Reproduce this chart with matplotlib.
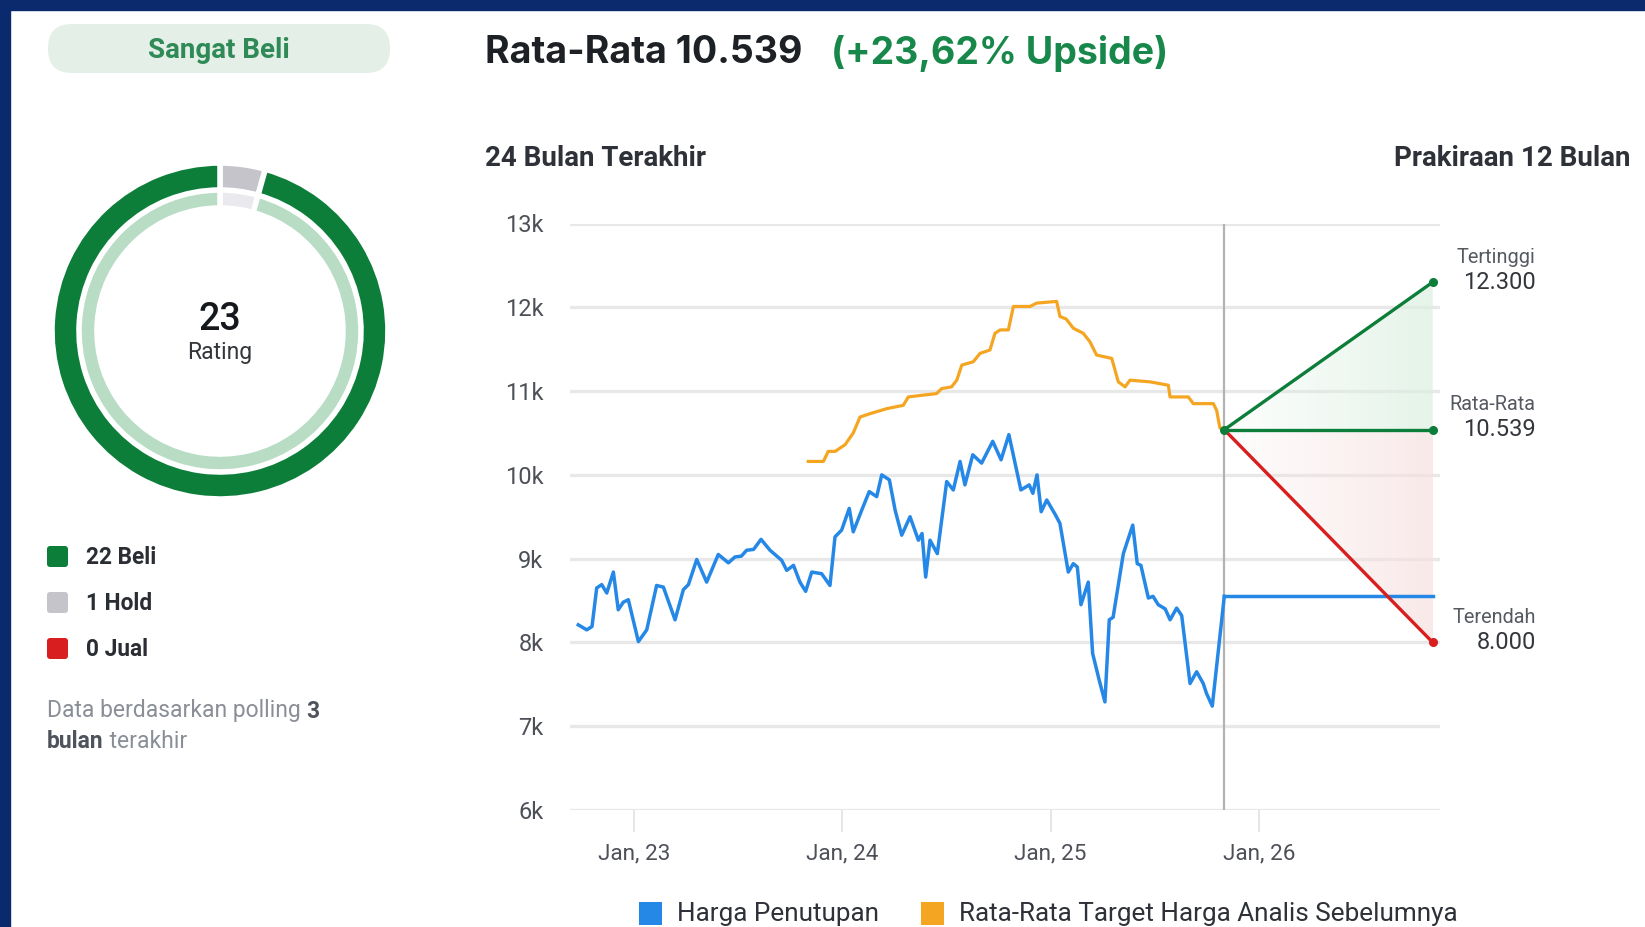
import numpy as np
import matplotlib
matplotlib.use("Agg")
import matplotlib.pyplot as plt
from matplotlib.patches import FancyBboxPatch, Polygon, Rectangle
from matplotlib.transforms import IdentityTransform

# ---- data (months counted from Jan 2023) ----
blue_m = [-3.19, -2.7, -2.4, -2.13, -1.84, -1.55, -1.17, -0.89, -0.6, -0.31, 0.27, 0.75, 1.32, 1.71,
          2.38, 2.86, 3.15, 3.63, 4.2, 4.87, 5.45, 5.83, 6.2, 6.5, 6.9, 7.33, 7.85, 8.52, 8.81, 9.2,
          9.57, 9.9, 10.25, 10.82, 11.3, 11.59, 11.97, 12.41, 12.64, 13.13, 13.56, 13.99, 14.28, 14.72,
          15.05, 15.43, 15.91, 16.39, 16.6, 16.81, 17.06, 17.48, 18.02, 18.4, 18.79, 19.07, 19.52,
          20.03, 20.67, 21.15, 21.6, 22.29, 22.77, 22.98, 23.22, 23.46, 23.78, 24.26, 24.54, 25.02,
          25.31, 25.54, 25.75, 26.17, 26.42, 26.8, 27.13, 27.38, 27.6, 28.19, 28.73, 28.99, 29.2,
          29.63, 29.9, 30.2, 30.6, 30.88, 31.26, 31.55, 32.03, 32.41, 32.79, 32.98, 33.31, 34.0]
blue_v = [8.21, 8.15, 8.19, 8.65, 8.69, 8.59, 8.84, 8.39, 8.48, 8.51, 8.01, 8.15, 8.68, 8.66,
          8.27, 8.63, 8.69, 8.99, 8.72, 9.05, 8.95, 9.02, 9.03, 9.10, 9.11, 9.23, 9.10, 8.98, 8.86, 8.92,
          8.72, 8.61, 8.84, 8.82, 8.68, 9.26, 9.34, 9.60, 9.32, 9.58, 9.80, 9.74, 10.0, 9.94,
          9.58, 9.28, 9.50, 9.22, 9.30, 8.78, 9.22, 9.06, 9.92, 9.82, 10.16, 9.88, 10.24,
          10.14, 10.40, 10.18, 10.48, 9.82, 9.88, 9.78, 10.0, 9.56, 9.70, 9.53, 9.42, 8.84,
          8.94, 8.90, 8.45, 8.72, 7.87, 7.55, 7.29, 8.27, 8.30, 9.06, 9.40, 8.94, 8.92,
          8.53, 8.55, 8.45, 8.40, 8.27, 8.41, 8.32, 7.51, 7.65, 7.51, 7.39, 7.24, 8.55]

orange_m = [10.05, 10.92, 11.2, 11.6, 11.88, 12.17, 12.64, 13.03, 13.6, 14.57, 15.52, 15.81, 16.6,
            17.44, 17.73, 18.3, 18.6, 18.89, 19.55, 19.94, 20.51, 20.8, 21.1, 21.57, 21.86, 22.82,
            23.2, 24.35, 24.54, 24.9, 25.31, 25.88, 26.26, 26.65, 27.52, 27.9, 28.29, 28.57, 29.72,
            30.78, 30.88, 31.93, 32.22, 33.37, 33.56, 33.75, 34.0]
orange_v = [10.16, 10.16, 10.28, 10.28, 10.32, 10.36, 10.50, 10.69, 10.73, 10.79, 10.83, 10.93, 10.95,
            10.97, 11.03, 11.05, 11.13, 11.31, 11.35, 11.45, 11.49, 11.69, 11.73, 11.73, 12.01, 12.01,
            12.05, 12.07, 11.89, 11.86, 11.75, 11.69, 11.59, 11.43, 11.39, 11.11, 11.05, 11.13, 11.11,
            11.07, 10.93, 10.93, 10.85, 10.85, 10.77, 10.56, 10.539]

fc_start, fc_end = 34.0, 46.0
last_close = 8.55
fc_high, fc_mean, fc_low = 12.300, 10.539, 8.000
fc_names = ["Tertinggi", "Rata-Rata", "Terendah"]
fc_labels = ["12.300", "10.539", "8.000"]

yticks = [6, 7, 8, 9, 10, 11, 12, 13]
ytick_labels = ["6k", "7k", "8k", "9k", "10k", "11k", "12k", "13k"]
xticks = [0, 12, 24, 36]
xtick_labels = ["Jan, 23", "Jan, 24", "Jan, 25", "Jan, 26"]

rating_counts = [1, 22, 0]          # Hold, Beli, Jual
rating_names = ["22 Beli", "1 Hold", "0 Jual"]
total_rating = "23"

# ---- colours ----
NAVY = "#0b2a6e"
GREEN = "#0d7e3a"
GREEN_LIGHT = "#b9dcc4"
GRAY = "#c4c4ca"
GRAY_LIGHT = "#e9e9ee"
RED = "#d81e1e"
BLUE = "#2588e6"
ORANGE = "#f4a522"

W, H = 1645, 927
fig = plt.figure(figsize=(W / 100, H / 100), dpi=100)
fig.patch.set_facecolor("white")
ID = IdentityTransform()


def fx(x):
    return x / W


def fy(y):
    return 1 - y / H


# navy frame at top and left
fig.patches.append(Rectangle((0, H - 10), W, 10, transform=ID, color=NAVY, zorder=10))
fig.patches.append(Rectangle((0, 0), 10, H, transform=ID, color=NAVY, zorder=10))

# ---- left panel ----
pill = FancyBboxPatch((48, H - 73), 342, 49, boxstyle="round,pad=0,rounding_size=24",
                      transform=ID, facecolor="#e3efe7", edgecolor="none")
fig.patches.append(pill)
fig.text(fx(219), fy(50), "Sangat Beli", ha="center", va="center", fontsize=20,
         fontweight="bold", color="#2f8a57", family="Roboto")

# donut
cx, cy, R = 220, 331, 168
half = 200
dax = fig.add_axes([fx(cx - half), fy(cy + half), 2 * half / W, 2 * half / H])
dax.pie(rating_counts[:2], colors=[GRAY, GREEN], startangle=90, counterclock=False,
        radius=1.0, wedgeprops=dict(width=29 / R, edgecolor="white", linewidth=4))
dax.pie(rating_counts[:2], colors=[GRAY_LIGHT, GREEN_LIGHT], startangle=90, counterclock=False,
        radius=1.0 - 27 / R, wedgeprops=dict(width=18 / R, edgecolor="white", linewidth=4))
dax.set_xlim(-half / R, half / R)
dax.set_ylim(-half / R, half / R)
dax.set_aspect("equal")
dax.axis("off")
fig.text(fx(220), fy(319), total_rating, ha="center", va="center", fontsize=27,
         fontweight="medium", color="#15181c", family="Roboto")
fig.text(fx(220), fy(353), "Rating", ha="center", va="center", fontsize=16.5,
         color="#33363b", family="Roboto")

# rating legend
leg_colors = [GREEN, GRAY, RED]
for i, (name, col) in enumerate(zip(rating_names, leg_colors)):
    yc = 557 + i * 46
    fig.patches.append(FancyBboxPatch((47, H - yc - 10), 21, 21, boxstyle="round,pad=0,rounding_size=3",
                                      transform=ID, facecolor=col, edgecolor="none"))
    fig.text(fx(86), fy(yc + 1), name, ha="left", va="center", fontsize=16.3, fontweight="bold",
             color="#2a2d33", family="Roboto")

# note with bold bits
renderer = fig.canvas.get_renderer()
note_lines = [[("Data berdasarkan polling ", False), ("3", True)],
              [("bulan", True), (" terakhir", False)]]
for j, parts in enumerate(note_lines):
    x = 47
    for txt, bold in parts:
        t = fig.text(fx(x), fy(711 + j * 31), txt, ha="left", va="center", fontsize=16.5,
                     fontweight="bold" if bold else "normal",
                     color="#4e535c" if bold else "#8a8e97", family="Roboto")
        x += t.get_window_extent(renderer).width

# ---- header ----
fig.text(fx(485), fy(53), "Rata-Rata 10.539", ha="left", va="center", fontsize=27,
         fontweight="bold", color="#1d2126", family="Inter")
fig.text(fx(831), fy(53), "(+23,62% Upside)", ha="left", va="center", fontsize=27,
         fontweight="bold", color="#17884a", family="Inter")
fig.text(fx(485), fy(158), "24 Bulan Terakhir", ha="left", va="center", fontsize=20,
         fontweight="bold", color="#2e3238", family="Roboto")
fig.text(fx(1631), fy(158), "Prakiraan 12 Bulan", ha="right", va="center", fontsize=20,
         fontweight="bold", color="#2e3238", family="Roboto")

# ---- main chart ----
ax = fig.add_axes([fx(570), fy(810), 870 / W, 586.5 / H])
ax.set_facecolor("none")

# gradient fills in forecast zone
grad = np.linspace(0.05, 0.7, 256).reshape(1, -1)
for top, bot, col in [(fc_high, fc_mean, (0.86, 0.94, 0.88)), (fc_mean, fc_low, (0.97, 0.88, 0.88))]:
    img = np.zeros((1, 256, 4))
    img[..., :3] = col
    img[..., 3] = grad
    im = ax.imshow(img, extent=[fc_start, fc_end, bot, top], aspect="auto", zorder=1,
                   interpolation="bilinear")
    if top == fc_high:
        poly = Polygon([[fc_start, fc_mean], [fc_end, fc_high], [fc_end, fc_mean]], closed=True,
                       facecolor="none", edgecolor="none")
    else:
        poly = Polygon([[fc_start, fc_mean], [fc_end, fc_mean], [fc_end, fc_low]], closed=True,
                       facecolor="none", edgecolor="none")
    ax.add_patch(poly)
    im.set_clip_path(poly)

ax.axvline(fc_start, color="#b3b3b3", lw=1.6, zorder=2)
ax.plot(blue_m, blue_v, color=BLUE, lw=2.5, zorder=3, solid_joinstyle="round")
ax.plot([fc_start, fc_end], [last_close, last_close], color=BLUE, lw=2.5, zorder=3)
ax.plot(orange_m, orange_v, color=ORANGE, lw=2.3, zorder=3)
ax.plot([fc_start, fc_end], [fc_mean, fc_high], color=GREEN, lw=2.4, zorder=4)
ax.plot([fc_start, fc_end], [fc_mean, fc_mean], color=GREEN, lw=2.4, zorder=4)
ax.plot([fc_start, fc_end], [fc_mean, fc_low], color=RED, lw=2.4, zorder=4)
ax.plot([fc_start, fc_end, fc_end], [fc_mean, fc_high, fc_mean], "o", color=GREEN, ms=5.5, zorder=5)
ax.plot([fc_end], [fc_low], "o", color=RED, ms=5.5, zorder=5)

for val, name, lab in zip([fc_high, fc_mean, fc_low], fc_names, fc_labels):
    ax.annotate(lab, xy=(fc_end, val), xytext=(103, 0), textcoords="offset pixels", ha="right",
                va="center", fontsize=17, color="#33363b", family="Roboto", annotation_clip=False)
    ax.annotate(name, xy=(fc_end, val), xytext=(103, 25), textcoords="offset pixels", ha="right",
                va="center", fontsize=14.3, color="#555a61", family="Roboto", annotation_clip=False)

ax.set_xlim(-3.667, 46.42)
ax.set_ylim(6, 13)
ax.set_yticks(yticks)
ax.set_yticklabels(ytick_labels)
ax.set_xticks(xticks)
ax.set_xticklabels(xtick_labels)
ax.grid(axis="y", color="#e8e8e8", lw=2.4, zorder=0)
ax.set_axisbelow(True)
for s in ax.spines.values():
    s.set_visible(False)
ax.tick_params(axis="y", length=0, pad=19, labelsize=17, labelcolor="#4d5157")
ax.tick_params(axis="x", length=16, width=1.2, color="#e2e2e2", pad=8, labelsize=16.2,
               labelcolor="#4d5157")
for lbl in ax.get_xticklabels() + ax.get_yticklabels():
    lbl.set_family("Roboto")

# bottom legend
for x0, col, txt in [(639, BLUE, "Harga Penutupan"), (921, ORANGE, "Rata-Rata Target Harga Analis Sebelumnya")]:
    fig.patches.append(Rectangle((x0, H - 925), 23, 23, transform=ID, facecolor=col, edgecolor="none"))
    fig.text(fx(x0 + 38), fy(914), txt, ha="left", va="center", fontsize=18.8,
             color="#2e3238", family="Roboto")

fig.savefig("out.png", dpi=100, facecolor="white")
